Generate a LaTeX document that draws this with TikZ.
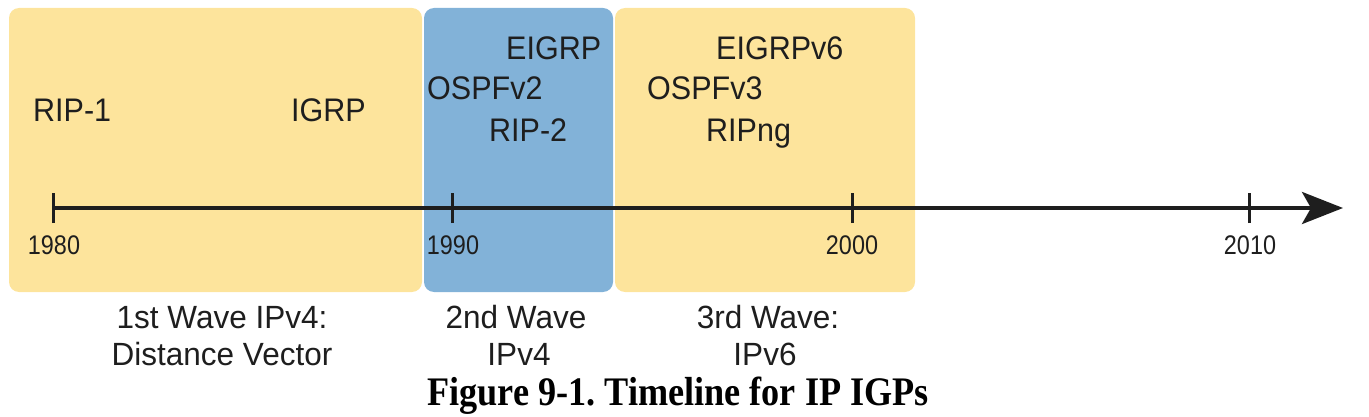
\documentclass[tikz,border=0pt]{standalone}
\usepackage{fontspec}
\setmainfont{Liberation Sans}
\newfontfamily\capfont{Liberation Serif}
\usetikzlibrary{arrows.meta}
\frenchspacing
\definecolor{waveyellow}{RGB}{253,228,156}
\definecolor{waveblue}{RGB}{130,178,216}
\definecolor{ink}{RGB}{30,30,30}
\newcommand\tallsans[2]{\scalebox{1}[#1]{#2}}
\tikzset{
  wavebox/.style={rounded corners=10pt},
  proto/.style={inner sep=0pt, anchor=base west, text=ink, font=\fontsize{30.5}{34}\selectfont},
  year/.style={inner sep=0pt, anchor=base, text=ink, font=\fontsize{23.4}{26}\selectfont},
  wavelabel/.style={inner sep=0pt, anchor=base, text=ink, font=\fontsize{31.5}{34}\selectfont},
  tickmark/.style={line width=3pt, draw=ink},
  axisline/.style={line width=4pt, draw=ink, -{Stealth[length=41pt,width=32pt,inset=9pt]}},
}
\begin{document}
\begin{tikzpicture}[x=1pt,y=-1pt]
\useasboundingbox (0,0) rectangle (1369,417);
% wave boxes
\fill[waveyellow, wavebox] (9,8) rectangle (422,292);
\fill[waveblue, wavebox] (424,8) rectangle (613,292);
\fill[waveyellow, wavebox] (615,8) rectangle (915,292);
% axis
\coordinate (y1980) at (53,208);
\coordinate (y1990) at (452,208);
\coordinate (y2000) at (852,208);
\coordinate (y2010) at (1249,208);
\coordinate (axisend) at (1343,208);
\draw[axisline] (y1980) -- (axisend);
\foreach \c in {y1980,y1990,y2000,y2010}
  \draw[tickmark] ([yshift=-15pt]\c) -- ([yshift=14.5pt]\c);
% years
\node[year] (t1980) at (54,254) {\tallsans{1.15}{1980}};
\node[year] (t1990) at (453,254) {\tallsans{1.15}{1990}};
\node[year] (t2000) at (852,254) {\tallsans{1.15}{2000}};
\node[year] (t2010) at (1250,254) {\tallsans{1.15}{2010}};
% protocols
\node[proto] (rip1) at (33,122) {\tallsans{1.07}{RIP-1}};
\node[proto] (igrp) at (291,122) {\tallsans{1.07}{IGRP}};
\node[proto] (eigrp) at (506,60) {\tallsans{1.07}{EIGRP}};
\node[proto] (ospf2) at (427,100) {\tallsans{1.07}{OSPFv2}};
\node[proto] (rip2) at (489,142) {\tallsans{1.07}{RIP-2}};
\node[proto] (eigrp6) at (716,60) {\tallsans{1.07}{EIGRPv6}};
\node[proto] (ospf3) at (647,100) {\tallsans{1.07}{OSPFv3}};
\node[proto] (ripng) at (706,142) {\tallsans{1.07}{RIPng}};
% wave labels
\node[wavelabel] (w1a) at (222,328) {\tallsans{1.02}{1st Wave IPv4:}};
\node[wavelabel] (w1b) at (222,365) {\tallsans{1.02}{Distance Vector}};
\node[wavelabel] (w2a) at (516,328) {\tallsans{1.02}{2nd Wave}};
\node[wavelabel] (w2b) at (519,365) {\tallsans{1.02}{IPv4}};
\node[wavelabel] (w3a) at (768,328) {\tallsans{1.02}{3rd Wave:}};
\node[wavelabel] (w3b) at (765,365) {\tallsans{1.02}{IPv6}};
% caption
\node[inner sep=0pt, anchor=base, text=black] (caption) at (678,405)
  {\scalebox{1}[1.12]{\capfont\bfseries\fontsize{36.2}{40}\selectfont Figure 9-1. Timeline for IP IGPs}};
\end{tikzpicture}
\end{document}
